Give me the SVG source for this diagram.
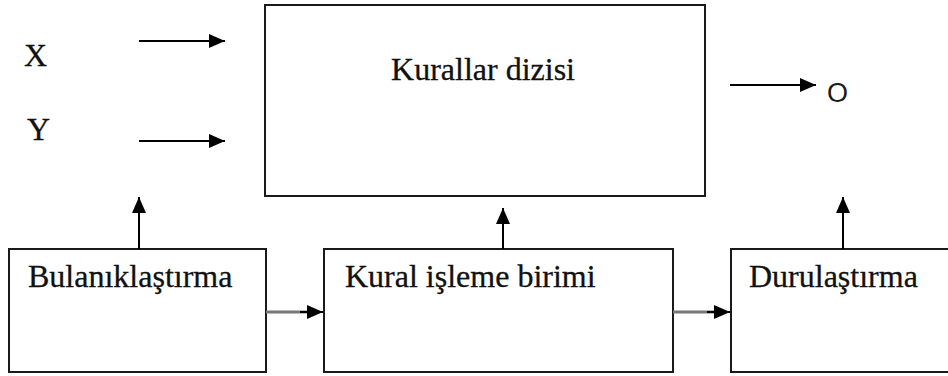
<svg xmlns="http://www.w3.org/2000/svg" width="948" height="376" viewBox="0 0 948 376">
<style>
.box{fill:#fff;stroke:#1a1a1a;stroke-width:2}
.lbl{font-family:"Liberation Serif","Times New Roman",serif;font-size:32px;fill:#111;stroke:#111;stroke-width:0.3}
.con{stroke:#000;stroke-width:2;fill:none}
.gray{stroke:#777;stroke-width:3;fill:none}
</style>
<defs>
<marker id="ah" viewBox="0 0 16 14" refX="16" refY="7" markerWidth="16" markerHeight="14" markerUnits="userSpaceOnUse" orient="auto">
<path d="M0,0 L16,7 L0,14 Z" fill="#000"/>
</marker>
</defs>
<rect width="948" height="376" fill="#fff"/>
<g id="input-x"><text class="lbl" x="24" y="66">X</text></g>
<g id="input-y"><text class="lbl" x="27" y="140">Y</text></g>
<g id="output-o"><text x="827" y="102" style="font-family:'Liberation Sans',Arial,sans-serif;font-size:27px;fill:#1a1a1a">O</text></g>
<g id="kurallar-dizisi">
<rect class="box" x="265" y="5" width="440" height="191"/>
<text class="lbl" x="483" y="80" text-anchor="middle">Kurallar dizisi</text>
</g>
<g id="bulaniklastirma">
<rect class="box" x="9" y="249" width="257" height="123"/>
<text class="lbl" x="28" y="287">Bulanıklaştırma</text>
</g>
<g id="kural-isleme-birimi">
<rect class="box" x="324" y="249" width="349" height="123"/>
<text class="lbl" x="345" y="287">Kural işleme birimi</text>
</g>
<g id="durulastirma">
<rect class="box" x="731" y="249" width="230" height="123"/>
<text class="lbl" x="749" y="287">Durulaştırma</text>
</g>
<g id="connectors">
<line class="con" x1="139" y1="41" x2="225" y2="41" marker-end="url(#ah)"/>
<line class="con" x1="139" y1="141" x2="225" y2="141" marker-end="url(#ah)"/>
<line class="con" x1="730" y1="85" x2="816" y2="85" marker-end="url(#ah)"/>
<line class="con" x1="139" y1="249" x2="139" y2="197" marker-end="url(#ah)"/>
<line class="con" x1="503" y1="249" x2="503" y2="208" marker-end="url(#ah)"/>
<line class="con" x1="843" y1="249" x2="843" y2="197" marker-end="url(#ah)"/>
<line class="gray" x1="266" y1="312" x2="310" y2="312"/>
<line class="con" x1="300" y1="312" x2="323" y2="312" marker-end="url(#ah)"/>
<line class="gray" x1="673" y1="312" x2="717" y2="312"/>
<line class="con" x1="707" y1="312" x2="730" y2="312" marker-end="url(#ah)"/>
</g>
</svg>
